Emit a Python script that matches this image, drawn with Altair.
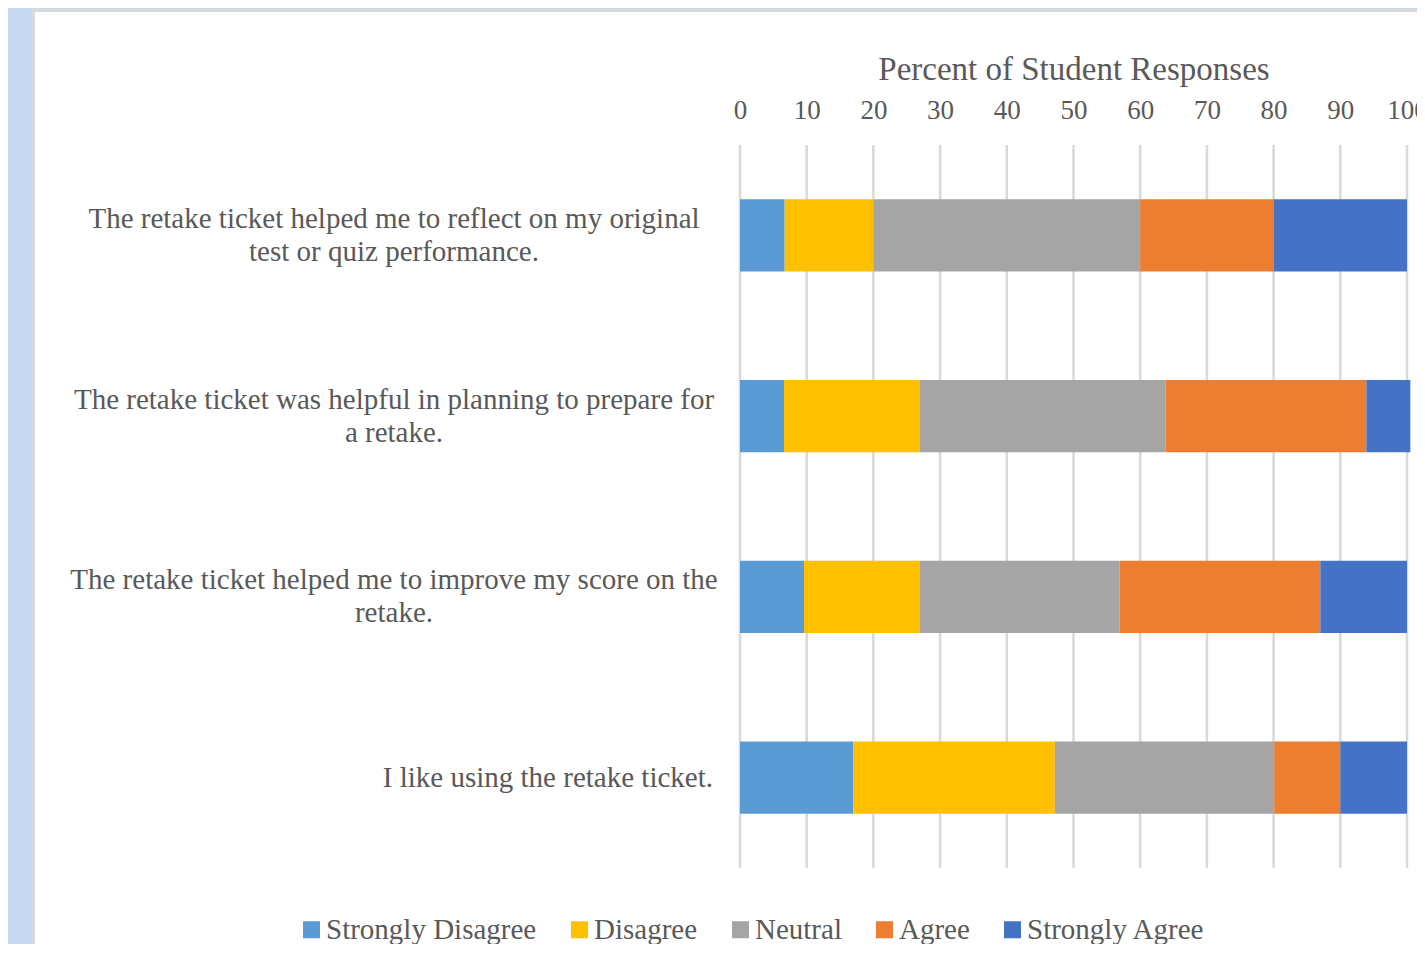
import altair as alt
import pandas as pd

QUESTIONS = [
    "The retake ticket helped me to reflect on my original\ntest or quiz performance.",
    "The retake ticket was helpful in planning to prepare for\na retake.",
    "The retake ticket helped me to improve my score on the\nretake.",
    "I like using the retake ticket.",
]
RESPONSES = ["Strongly Disagree", "Disagree", "Neutral", "Agree", "Strongly Agree"]
COLORS = ["#5b9bd5", "#ffc000", "#a5a5a5", "#ed7d31", "#4472c4"]

STRONGLY_DISAGREE = [6.7, 6.6, 9.6, 17.0]
DISAGREE = [13.3, 20.3, 17.3, 30.2]
NEUTRAL = [40.0, 36.9, 30.0, 32.9]
AGREE = [20.0, 30.1, 30.1, 9.9]
STRONGLY_AGREE = [20.0, 6.6, 13.0, 10.0]

TICKS = [0, 10, 20, 30, 40, 50, 60, 70, 80, 90, 100]
AXIS_TITLE = "Percent of Student Responses"

FONT = "Liberation Serif"
TEXT_COLOR = "#595959"

series = [STRONGLY_DISAGREE, DISAGREE, NEUTRAL, AGREE, STRONGLY_AGREE]
rows = []
for qi, q in enumerate(QUESTIONS):
    for ri, r in enumerate(RESPONSES):
        rows.append({"question": q, "response": r, "value": series[ri][qi], "order": ri})
df = pd.DataFrame(rows)

labels_df = pd.DataFrame({
    "question": QUESTIONS,
    "nlines": [len(q.split("\n")) for q in QUESTIONS],
})
grid_df = pd.DataFrame({"tick": TICKS})

x_scale = alt.Scale(domain=[0, 100], nice=False, zero=True)
x_axis = alt.Axis(
    orient="top", values=TICKS, grid=False, domain=False, ticks=False, tickSize=0,
    labelFont=FONT, labelFontSize=27, labelColor=TEXT_COLOR, labelBaseline="alphabetic",
    labelPadding=27, labelFlush=False, labelOverlap=False,
    title=AXIS_TITLE, titleFont=FONT, titleFontSize=33, titleColor=TEXT_COLOR,
    titleFontWeight="normal", titleBaseline="alphabetic", titleAlign="center",
    titleX=333.5, titleY=-66, zindex=1,
)
y_scale = alt.Scale(paddingInner=0.6, paddingOuter=0.3)

panel = alt.Chart(alt.Data(values=[{"k": 0}])).mark_rect(
    fill="white", stroke="#d9d9d9", strokeWidth=3
).encode(
    x=alt.value(-706.5), x2=alt.value(720), y=alt.value(-134.5), y2=alt.value(830)
)

grid = alt.Chart(grid_df).mark_rule(color="#d9d9d9", strokeWidth=2.5).encode(
    x=alt.X("tick:Q", scale=x_scale, axis=x_axis)
)

bars = alt.Chart(df).mark_bar().encode(
    x=alt.X("value:Q", stack="zero", scale=x_scale, axis=x_axis),
    y=alt.Y("question:N", sort=QUESTIONS, scale=y_scale, axis=None),
    color=alt.Color(
        "response:N",
        scale=alt.Scale(domain=RESPONSES, range=COLORS),
        legend=alt.Legend(
            orient="none", legendX=-443, legendY=770, direction="horizontal", columns=5,
            title=None, symbolType="square", symbolSize=289, symbolStrokeWidth=0,
            labelFont=FONT, labelFontSize=29, labelColor=TEXT_COLOR, labelOffset=0,
            columnPadding=28, labelLimit=400, padding=0,
        ),
    ),
    order=alt.Order("order:Q"),
)

text_multi = alt.Chart(labels_df).transform_filter("datum.nlines > 1").mark_text(
    align="center", baseline="middle", font=FONT, fontSize=29, color=TEXT_COLOR,
    lineBreak="\n", lineHeight=33, dy=-16.5,
).encode(
    y=alt.Y("question:N", sort=QUESTIONS, scale=y_scale, axis=None),
    x=alt.value(-346),
    text="question:N",
)

text_single = alt.Chart(labels_df).transform_filter("datum.nlines == 1").mark_text(
    align="right", baseline="middle", font=FONT, fontSize=29, color=TEXT_COLOR,
).encode(
    y=alt.Y("question:N", sort=QUESTIONS, scale=y_scale, axis=None),
    x=alt.value(-27),
    text="question:N",
)

chart = alt.layer(panel, grid, bars, text_multi, text_single).properties(
    width=667,
    height=723,
    background="#c6d9f0",
    padding={"left": 732, "top": 137, "right": 10, "bottom": 76},
    autosize=alt.AutoSizeParams(type="none"),
).configure_view(strokeWidth=0)

chart.save("out.html", embed_options={"renderer": "svg", "actions": False})
